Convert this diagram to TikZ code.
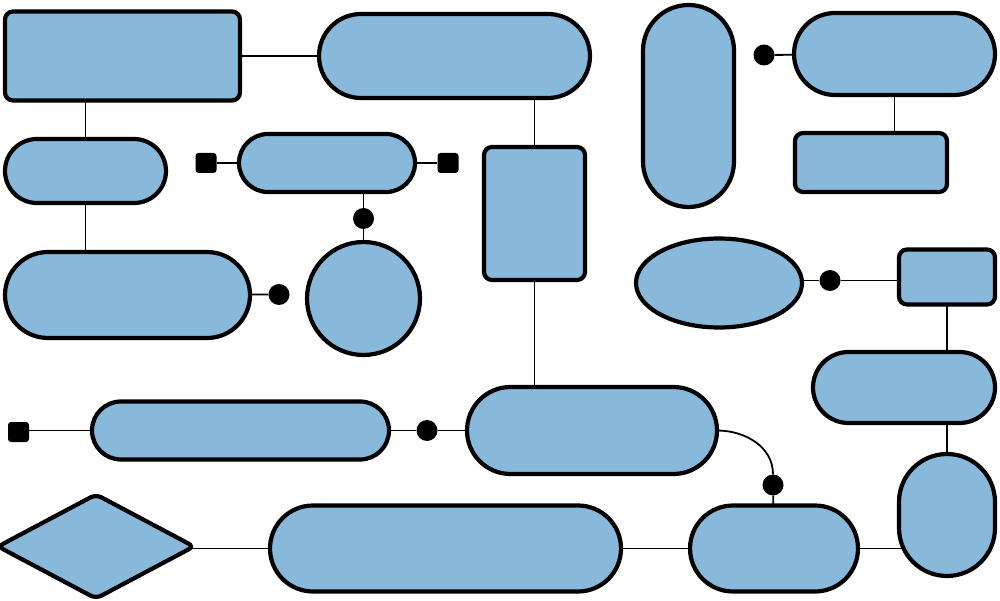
\documentclass[tikz,border=0pt]{standalone}
\usetikzlibrary{backgrounds,shapes.geometric}
\definecolor{boxblue}{RGB}{137,185,218}
\tikzset{
  box/.style={draw=black, fill=boxblue, line width=4.2pt, inner sep=0pt, outer sep=0pt},
  dotnode/.style={circle, fill=black, minimum size=21pt, inner sep=0pt},
  sqnode/.style={rectangle, fill=black, minimum width=21pt, minimum height=20pt, rounded corners=3pt, inner sep=0pt},
  conn/.style={draw=black, line width=1.8pt}
}
\begin{document}
\begin{tikzpicture}[x=1pt,y=1pt]
\useasboundingbox (0,0) rectangle (1000,-601);
% boxes
\node[box, minimum width=235pt, minimum height=89pt, rounded corners=8pt] (A) at (122.5,-56) {};
\node[box, minimum width=271pt, minimum height=84pt, rounded corners=41.99pt] (B) at (454.5,-56) {};
\node[box, minimum width=161pt, minimum height=64pt, rounded corners=31.99pt] (C) at (85.5,-171) {};
\node[box, minimum width=245pt, minimum height=86pt, rounded corners=42.99pt] (D) at (127.5,-295) {};
\node[box, minimum width=176pt, minimum height=58pt, rounded corners=28.99pt] (E) at (327,-163) {};
\node[box, circle, minimum size=113pt] (F) at (363.5,-298.5) {};
\node[box, minimum width=101pt, minimum height=133pt, rounded corners=8pt] (G) at (534.5,-213.5) {};
\node[box, minimum width=250pt, minimum height=87pt, rounded corners=43.49pt] (H) at (592,-430.5) {};
\node[box, minimum width=297pt, minimum height=58pt, rounded corners=28.99pt] (I) at (240.5,-430.5) {};
\node[box, diamond, minimum width=196pt, minimum height=104pt, rounded corners=6pt] (J) at (96,-546.5) {};
\node[box, minimum width=351pt, minimum height=86pt, rounded corners=42.99pt] (K) at (445.5,-548.5) {};
\node[box, minimum width=168pt, minimum height=86pt, rounded corners=42.99pt] (L) at (774,-548.5) {};
\node[box, minimum width=96pt, minimum height=122pt, rounded corners=47.99pt] (M) at (947,-515) {};
\node[box, minimum width=182pt, minimum height=71pt, rounded corners=35.49pt] (N) at (904,-387.5) {};
\node[box, minimum width=96pt, minimum height=55pt, rounded corners=8pt] (O) at (947,-277) {};
\node[box, ellipse, minimum width=166pt, minimum height=89pt] (P) at (719,-283) {};
\node[box, minimum width=91pt, minimum height=202pt, rounded corners=45.49pt] (Q) at (688.5,-106) {};
\node[box, minimum width=201pt, minimum height=82pt, rounded corners=40.99pt] (R) at (894.5,-54) {};
\node[box, minimum width=152pt, minimum height=59pt, rounded corners=8pt] (S) at (871,-162.5) {};
% dots and squares
\node[dotnode] (dD) at (279,-294.5) {};
\node[dotnode] (dE) at (363.5,-218.5) {};
\node[dotnode] (dI) at (427,-430.5) {};
\node[dotnode] (dHL) at (773,-485) {};
\node[dotnode] (dP) at (830,-280.5) {};
\node[dotnode] (dR) at (764,-55) {};
\node[sqnode] (sE1) at (206,-163) {};
\node[sqnode] (sE2) at (448,-163) {};
\node[sqnode] (sI) at (18.5,-432) {};
% connectors
\begin{scope}[on background layer]
\fill[white] (0,0) rectangle (1000,-601);
\draw[conn] (A.center) -- (B.center);
\draw[conn] (C.center |- A.center) -- (C.center) -- (C.center |- D.center);
\draw[conn] (D.center) -- (dD);
\draw[conn] (sE1) -- (E.center) -- (sE2);
\draw[conn] (F.center |- E.center) -- (dE) -- (F.center);
\draw[conn] (G.center |- B.center) -- (G.center) -- (G.center |- H.center);
\draw[conn] (sI.center |- I.center) -- (I.center) -- (dI) -- (H.center);
\draw[conn] (H.center) -- (H.east) to[out=0,in=90] (dHL) -- (L.center);
\draw[conn] (J.center |- K.center) -- (K.center) -- (L.center);
\draw[conn] (L.center) -- (L.center -| M.center);
\draw[conn] (M.center) -- (M.center |- N.center) -- (O.center);
\draw[conn] (dP -| P.center) -- (dP) -- (dP -| O.center);
\draw[conn] (dR) -- (R.center);
\draw[conn] (R.center) -- (R.center |- S.center);
\end{scope}
\end{tikzpicture}
\end{document}
